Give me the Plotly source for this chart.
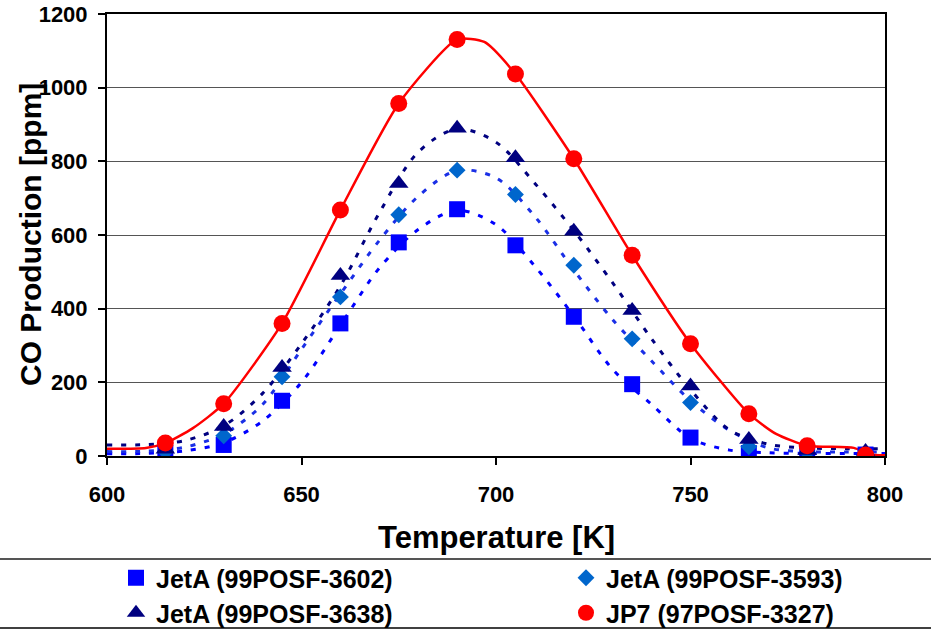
import plotly.graph_objects as go

# Measured CO production at each furnace temperature step
temps = [615, 630, 645, 660, 675, 690, 705, 720, 735, 750, 765, 780, 795]
co_jeta_3602 = [8, 30, 150, 360, 580, 670, 572, 378, 195, 50, 8, 5, 4]
co_jeta_3593 = [12, 55, 215, 432, 655, 776, 710, 518, 318, 145, 25, 10, 6]
co_jeta_3638 = [18, 80, 240, 490, 740, 890, 810, 610, 395, 190, 45, 15, 12]
co_jp7_3327 = [35, 142, 360, 668, 957, 1131, 1037, 807, 545, 305, 115, 28, 3]

# Fitted profiles (dotted) for the JetA samples
fit_temps = [600, 610, 620, 630, 640, 650, 660, 670, 680, 690, 700, 710, 720,
             730, 740, 750, 760, 770, 780, 790, 800]
fit_3602 = [6, 7, 14, 36, 95, 200, 355, 510, 615, 667, 628, 515, 380,
            235, 140, 48, 16, 9, 7, 7, 7]
fit_3593 = [12, 13, 24, 60, 140, 290, 440, 585, 705, 775, 755, 650, 505,
            370, 258, 150, 70, 22, 12, 11, 11]
fit_3638 = [30, 31, 42, 82, 170, 305, 462, 660, 825, 888, 852, 740, 612,
            470, 318, 180, 71, 32, 22, 20, 20]

# Continuous JP7 trace
jp7_temps = [600, 610, 615, 622, 630, 645, 660, 675, 690, 697, 705, 720, 735,
             750, 765, 772, 780, 792, 796, 800]
jp7_line = [20, 22, 35, 75, 142, 360, 668, 957, 1131, 1124, 1037, 807, 545,
            305, 115, 60, 28, 22, 4, 2]

y_ticks = [0, 200, 400, 600, 800, 1000, 1200]
x_ticks = [600, 650, 700, 750, 800]

names = ["JetA (99POSF-3602)", "JetA (99POSF-3593)",
         "JetA (99POSF-3638)", "JP7 (97POSF-3327)"]
colors = ["#0000FF", "#0066CC", "#000080", "#FF0000"]

FONT = "Liberation Sans, Arial, sans-serif"

fig = go.Figure()

dot = "5px,9px"
for fx, fy, col in [(fit_temps, fit_3602, "#0000FF"),
                    (fit_temps, fit_3593, "#1a2fe6"),
                    (fit_temps, fit_3638, "#000080")]:
    fig.add_trace(go.Scatter(x=fx, y=fy, mode="lines", showlegend=False,
                             hoverinfo="skip",
                             line=dict(color=col, width=3, dash=dot,
                                       shape="spline", smoothing=0.9)))

fig.add_trace(go.Scatter(x=jp7_temps, y=jp7_line, mode="lines", showlegend=False,
                         hoverinfo="skip",
                         line=dict(color="#FF0000", width=2.5,
                                   shape="spline", smoothing=0.6)))

series = [co_jeta_3602, co_jeta_3593, co_jeta_3638, co_jp7_3327]
symbols = ["square", "diamond", "triangle-up", "circle"]
sizes = [16, 13, 17, 17]
legends = ["legend", "legend2", "legend3", "legend4"]
for name, vals, col, sym, sz, lg in zip(names, series, colors, symbols, sizes, legends):
    fig.add_trace(go.Scatter(x=temps, y=vals, mode="markers", name=name,
                             legend=lg,
                             marker=dict(symbol=sym, size=sz, color=col,
                                         line=dict(width=0))))

L, R, T, B = 107, 46, 14, 179
W, H = 931, 635
pw, ph = W - L - R, H - T - B


def px_x(p):
    return (p - L) / pw


def px_y(p):
    return (H - B - p) / ph


leg_font = dict(family=FONT, size=25, color="#000000", weight="bold")


def leg(xp, yp):
    return dict(x=px_x(xp), y=px_y(yp), xanchor="left", yanchor="middle",
                orientation="h", bgcolor="rgba(0,0,0,0)", borderwidth=0,
                font=leg_font, itemwidth=30)


fig.update_layout(
    width=W, height=H,
    margin=dict(l=L, r=R, t=T, b=B, autoexpand=False),
    paper_bgcolor="white", plot_bgcolor="white",
    font=dict(family=FONT, color="#000000"),
    legend=leg(116, 578),
    legend2=leg(566, 578),
    legend3=leg(116, 613),
    legend4=leg(566, 613),
    xaxis=dict(range=[600, 800], tickvals=x_ticks, ticks="outside", ticklen=7,
               tickwidth=2, tickcolor="#000000", showline=True, linewidth=2,
               linecolor="#000000", mirror=True, showgrid=False, zeroline=False,
               ticklabelstandoff=11,
               tickfont=dict(family=FONT, size=22, color="#000000", weight="bold")),
    yaxis=dict(range=[0, 1200], tickvals=y_ticks, ticks="outside", ticklen=7,
               tickwidth=2, tickcolor="#000000", showline=True, linewidth=2,
               linecolor="#000000", mirror=True, showgrid=True,
               gridcolor="#555555", gridwidth=1, zeroline=False,
               ticklabelstandoff=6,
               tickfont=dict(family=FONT, size=22, color="#000000", weight="bold")),
    annotations=[
        dict(text="Temperature [K]", xref="paper", yref="paper",
             x=0.5, y=px_y(537), xanchor="center", yanchor="middle",
             showarrow=False,
             font=dict(family=FONT, size=31, color="#000000", weight="bold")),
        dict(text="CO Production [ppm]", xref="paper", yref="paper",
             x=px_x(30), y=0.5, xanchor="center", yanchor="middle",
             textangle=-90, showarrow=False,
             font=dict(family=FONT, size=30, color="#000000", weight="bold")),
    ],
    shapes=[
        dict(type="line", xref="paper", yref="paper", x0=-0.3, x1=1.2,
             y0=px_y(559), y1=px_y(559), line=dict(color="#555555", width=2)),
        dict(type="line", xref="paper", yref="paper", x0=-0.3, x1=1.2,
             y0=px_y(628), y1=px_y(628), line=dict(color="#000000", width=1.5)),
    ],
)

fig.write_html("out.html")
